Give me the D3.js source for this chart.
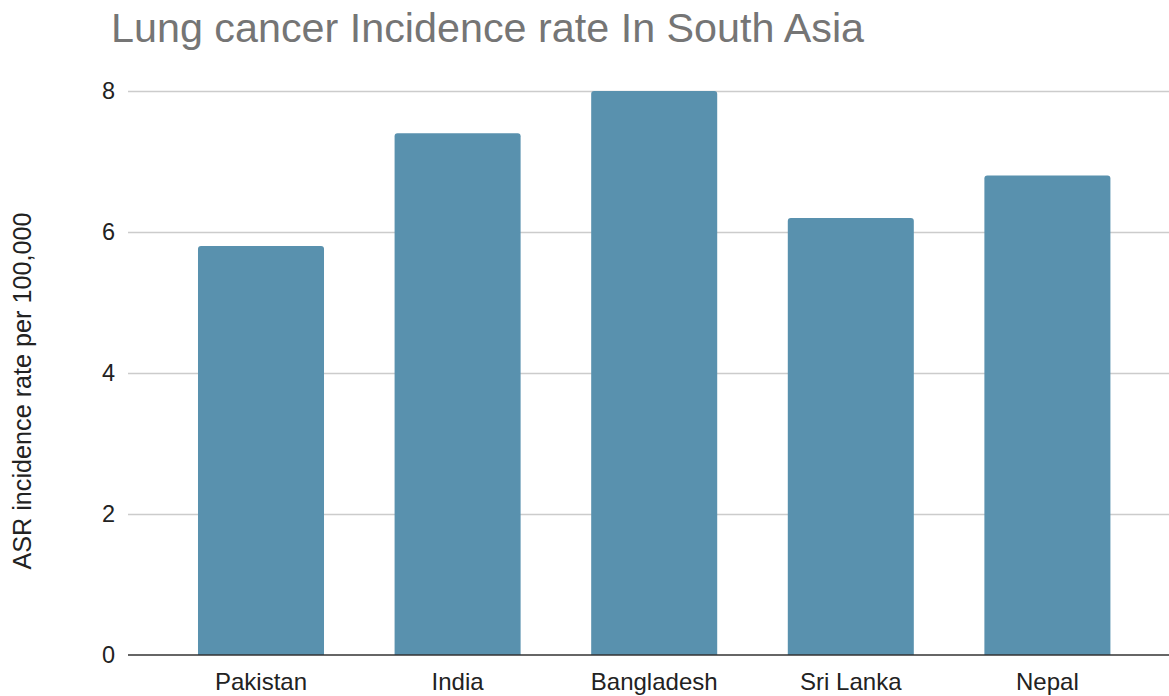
<!DOCTYPE html>
<html><head><meta charset="utf-8">
<script src="https://cdn.jsdelivr.net/npm/d3@7"></script>
<style>html,body{margin:0;padding:0;background:#fff;}svg{display:block;font-family:"Liberation Sans",Arial,sans-serif;}</style>
</head><body><svg id="c" width="1169" height="696"></svg>
<script>
const categories = ["Pakistan","India","Bangladesh","Sri Lanka","Nepal"];
const values = [5.8,7.4,8.0,6.2,6.8];
const yTicks = [0,2,4,6,8];
const title = "Lung cancer Incidence rate In South Asia";
const yLabel = "ASR incidence rate per 100,000";

const svg = d3.select("#c");
const plotL = 128, plotR = 1169, plotTop = 91, plotBottom = 655;
const x = d3.scaleBand().domain(categories).range([162.7,1145.7]).paddingInner(0.359).paddingOuter(0.1795);
const y = d3.scaleLinear().domain([0,8]).range([plotBottom, plotTop]);

svg.append("text").attr("x",111).attr("y",42).attr("font-size",41.3).attr("fill","#757575").text(title);

// grid
svg.append("g").selectAll("line").data(yTicks.filter(d=>d>0)).join("line")
  .attr("x1",plotL).attr("x2",plotR).attr("y1",d=>y(d)+0.5).attr("y2",d=>y(d)+0.5)
  .attr("stroke","#cccccc").attr("stroke-width",1.5);

// y tick labels
svg.append("g").selectAll("text").data(yTicks).join("text")
  .attr("x",115).attr("y",d=>y(d)).attr("dy","0.36em").attr("text-anchor","end")
  .attr("font-size",23.5).attr("fill","#222").text(d=>d);

// bars with rounded top
const r = 3;
svg.append("g").selectAll("path").data(values).join("path")
  .attr("fill","#5991ae")
  .attr("d",(d,i)=>{
    const x0 = x(categories[i]), w = x.bandwidth(), y0 = y(d), yb = y(0);
    return `M${x0},${yb}V${y0+r}Q${x0},${y0} ${x0+r},${y0}H${x0+w-r}Q${x0+w},${y0} ${x0+w},${y0+r}V${yb}Z`;
  });

// baseline
svg.append("line").attr("x1",plotL).attr("x2",plotR).attr("y1",y(0)).attr("y2",y(0))
  .attr("stroke","#333").attr("stroke-width",1.5);

// x labels
svg.append("g").selectAll("text").data(categories).join("text")
  .attr("x",d=>x(d)+x.bandwidth()/2).attr("y",690).attr("text-anchor","middle")
  .attr("font-size",24).attr("fill","#222").text(d=>d);

// y label
svg.append("text").attr("transform","translate(31,391) rotate(-90)").attr("text-anchor","middle")
  .attr("font-size",25.2).attr("fill","#222").text(yLabel);
</script></body></html>
